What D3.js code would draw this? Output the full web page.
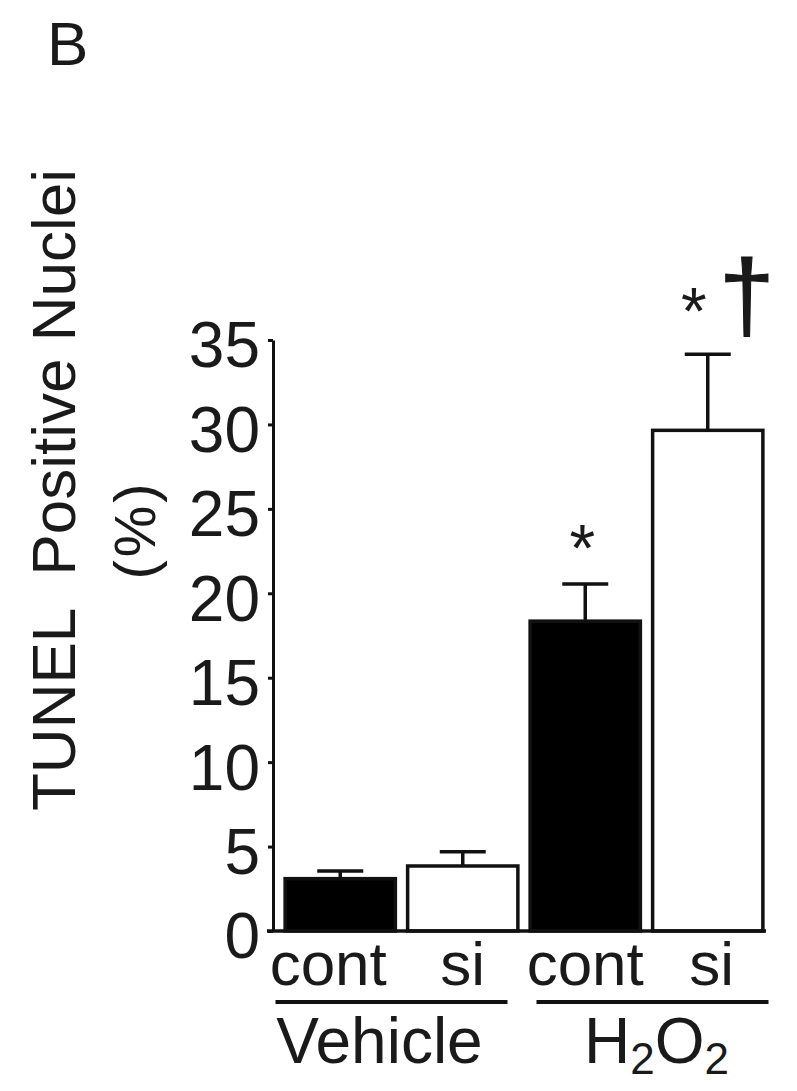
<html>
<head>
<style>
  body { margin: 0; background: #fff; }
  text { font-family: "Liberation Sans", Arial, sans-serif; fill: #1a1a1a; }
</style>
</head>
<body>
<svg width="797" height="1091"></svg>
<script src="https://d3js.org/d3.v7.min.js"></script>
<script>
// data
var categories = ["Vehicle cont", "Vehicle si", "H2O2 cont", "H2O2 si"];
var tickNames  = ["cont", "si", "cont", "si"];
var means      = [3.1, 3.85, 18.35, 29.65];
var sems       = [0.45, 0.85, 2.2, 4.5];
var fills      = ["black", "white", "black", "white"];
var marks      = ["", "", "*", "*"];
var daggers    = ["", "", "", "\u2020"];
var groups     = [{ name: "Vehicle", from: "Vehicle cont", to: "Vehicle si" },
                  { name: "H2O2",    from: "H2O2 cont",    to: "H2O2 si" }];
var yTicks     = [0, 5, 10, 15, 20, 25, 30, 35];

var svg = d3.select("svg");

var x = d3.scaleBand()
  .domain(categories)
  .range([279, 769])
  .paddingInner(0.1)
  .paddingOuter(0.05);

var y = d3.scaleLinear()
  .domain([0, 35])
  .range([931, 340]);

var bw = x.bandwidth();

// panel letter
svg.append("text")
  .attr("x", 47).attr("y", 65)
  .style("font-size", "62px")
  .text("B");

// y axis
var yAxis = svg.append("g")
  .attr("transform", "translate(273,0)")
  .call(d3.axisLeft(y).tickValues(yTicks).tickSize(5).tickSizeOuter(0).tickPadding(8));

yAxis.select(".domain").attr("stroke", "#111").attr("stroke-width", 3);
yAxis.selectAll(".tick line").attr("stroke", "#111").attr("stroke-width", 3);
yAxis.selectAll(".tick text")
  .attr("dy", "0.42em")
  .style("font-size", "64px")
  .style("font-family", "'Liberation Sans', Arial, sans-serif")
  .attr("fill", "#1a1a1a");

// y title
svg.append("text")
  .attr("transform", "translate(75,811) rotate(-90)")
  .style("font-size", "62px")
  .style("white-space", "pre")
  .text("TUNEL  Positive Nuclei");

svg.append("text")
  .attr("transform", "translate(155,530) rotate(-90)")
  .attr("text-anchor", "middle")
  .style("font-size", "58px")
  .style("letter-spacing", "3px")
  .text("(%)");

// bars
svg.selectAll("rect.bar")
  .data(categories)
  .enter().append("rect")
  .attr("class", "bar")
  .attr("x", function(d) { return x(d); })
  .attr("width", bw)
  .attr("y", function(d, i) { return y(means[i]); })
  .attr("height", function(d, i) { return y(0) - y(means[i]); })
  .attr("fill", function(d, i) { return fills[i]; })
  .attr("stroke", "#111")
  .attr("stroke-width", 3.5);

// error bars
var eb = svg.selectAll("g.err")
  .data(categories)
  .enter().append("g")
  .attr("class", "err")
  .attr("stroke", "#111")
  .attr("stroke-width", 3.5);

eb.append("line")
  .attr("x1", function(d) { return x(d) + bw / 2; })
  .attr("x2", function(d) { return x(d) + bw / 2; })
  .attr("y1", function(d, i) { return y(means[i]); })
  .attr("y2", function(d, i) { return y(means[i] + sems[i]); });

eb.append("line")
  .attr("x1", function(d) { return x(d) + bw / 2 - 23; })
  .attr("x2", function(d) { return x(d) + bw / 2 + 23; })
  .attr("y1", function(d, i) { return y(means[i] + sems[i]); })
  .attr("y2", function(d, i) { return y(means[i] + sems[i]); });

// baseline
svg.append("line")
  .attr("x1", 267).attr("x2", 766)
  .attr("y1", y(0)).attr("y2", y(0))
  .attr("stroke", "#111").attr("stroke-width", 3.5);

// significance marks
svg.selectAll("text.star")
  .data(categories)
  .enter().append("text")
  .attr("class", "star")
  .attr("text-anchor", "middle")
  .attr("x", function(d, i) { return x(d) + bw / 2 + (daggers[i] ? -14 : -3); })
  .attr("y", function(d, i) { return y(means[i] + sems[i]) - (daggers[i] ? 20 : 13); })
  .style("font-size", "66px")
  .text(function(d, i) { return marks[i]; });

svg.selectAll("text.dagger")
  .data(categories)
  .enter().append("text")
  .attr("class", "dagger")
  .attr("text-anchor", "middle")
  .attr("x", function(d) { return x(d) + bw / 2 + 39; })
  .attr("y", function(d, i) { return y(means[i] + sems[i]) - 24; })
  .style("font-size", "100px")
  .attr("stroke", "#111").attr("stroke-width", 1)
  .text(function(d, i) { return daggers[i]; });

// x tick labels
var labelShift = [-12, 0, 0, 4];
svg.selectAll("text.xlab")
  .data(categories)
  .enter().append("text")
  .attr("class", "xlab")
  .attr("text-anchor", "middle")
  .attr("x", function(d, i) { return x(d) + bw / 2 + labelShift[i]; })
  .attr("y", 985)
  .style("font-size", "62px")
  .text(function(d, i) { return tickNames[i]; });

// group lines and names
var nudge = [-10, 6];
groups.forEach(function(g, i) {
  var cx = (x(g.from) + x(g.to) + bw) / 2 + nudge[i];
  svg.append("line")
    .attr("x1", cx - 116).attr("x2", cx + 116)
    .attr("y1", 1002).attr("y2", 1002)
    .attr("stroke", "#111").attr("stroke-width", 4);
  var t = svg.append("text")
    .attr("text-anchor", "middle")
    .attr("x", cx + (i === 0 ? -12 : 4))
    .attr("y", 1063)
    .style("font-size", "64px");
  if (g.name === "H2O2") {
    t.append("tspan").text("H");
    t.append("tspan").attr("dy", 11).style("font-size", "44px").text("2");
    t.append("tspan").attr("dy", -11).text("O");
    t.append("tspan").attr("dy", 11).style("font-size", "44px").text("2");
  } else {
    t.text(g.name);
  }
});
</script>
</body>
</html>
